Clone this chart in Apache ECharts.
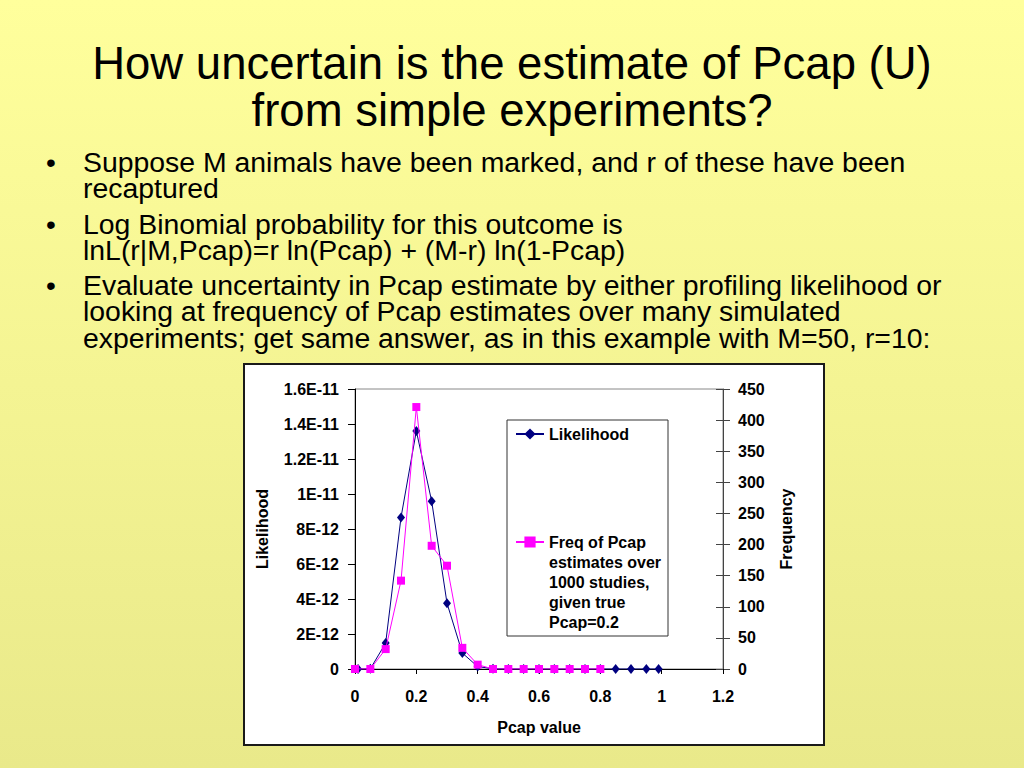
<!DOCTYPE html>
<html>
<head>
<meta charset="utf-8">
<script src="https://cdn.jsdelivr.net/npm/echarts@6/dist/echarts.min.js"></script>
<style>
html,body{margin:0;padding:0;width:1024px;height:768px;overflow:hidden;}
#main{width:1024px;height:768px;}
</style>
</head>
<body>
<div id="main"></div>
<script>
// ---- data ----
const titleLines = ['How uncertain is the estimate of Pcap (U)', 'from simple experiments?'];
const bulletLines = [
  ['Suppose M animals have been marked, and r of these have been', 'recaptured'],
  ['Log Binomial probability for this outcome is', 'lnL(r|M,Pcap)=r ln(Pcap) + (M-r) ln(1-Pcap)'],
  ['Evaluate uncertainty in Pcap estimate by either profiling likelihood or', 'looking at frequency of Pcap estimates over many simulated', 'experiments; get same answer, as in this example with M=50, r=10:']
];
const likName = 'Likelihood';
const freqName = 'Freq of Pcap\nestimates over\n1000 studies,\ngiven true\nPcap=0.2';
const likX = [0.01, 0.05, 0.1, 0.15, 0.2, 0.25, 0.3, 0.35, 0.4, 0.45, 0.5, 0.55, 0.6, 0.65, 0.7, 0.75, 0.8, 0.85, 0.9, 0.95, 0.99];
const likY = [0, 1.3e-14, 1.48e-12, 8.66e-12, 1.36e-11, 9.59e-12, 3.76e-12, 9.1e-13, 1.4e-13, 1.4e-14, 1e-15, 0, 0, 0, 0, 0, 0, 0, 0, 0, 0];
const freqX = [0, 0.05, 0.1, 0.15, 0.2, 0.25, 0.3, 0.35, 0.4, 0.45, 0.5, 0.55, 0.6, 0.65, 0.7, 0.75, 0.8];
const freqY = [0, 0, 32, 142, 421, 198, 166, 34, 7, 0, 0, 0, 0, 0, 0, 0, 0];
const xTickLabels = ['0', '0.2', '0.4', '0.6', '0.8', '1', '1.2'];
const leftTickLabels = ['0', '2E-12', '4E-12', '6E-12', '8E-12', '1E-11', '1.2E-11', '1.4E-11', '1.6E-11'];
const rightTickLabels = ['0', '50', '100', '150', '200', '250', '300', '350', '400', '450'];
const xAxisName = 'Pcap value';
const leftAxisName = 'Likelihood';
const rightAxisName = 'Frequency';

// ---- chart ----
const chart = echarts.init(document.getElementById('main'), null, {renderer: 'svg'});
const FONT = '"Liberation Sans", Arial, Helvetica, sans-serif';
const FS = 16;
const axisLabelStyle = {fontFamily: FONT, fontWeight: 'bold', fontSize: FS, color: '#000'};
const nameStyle = {fontFamily: FONT, fontWeight: 'bold', fontSize: FS, color: '#000'};

const graphics = [];
graphics.push({
  type: 'rect', z: -100, silent: true,
  shape: {x: 0, y: 0, width: 1024, height: 768},
  style: {fill: new echarts.graphic.LinearGradient(0, 0, 0, 1, [
    {offset: 0, color: '#FFFF9C'}, {offset: 1, color: '#E9E98A'}])}
});
graphics.push({
  type: 'rect', z: -90, silent: true,
  shape: {x: 244, y: 364, width: 580, height: 381},
  style: {fill: '#FFFFFF', stroke: '#1a1a1a', lineWidth: 2}
});
const titleCenters = [63, 110];
titleLines.forEach((t, i) => {
  graphics.push({
    type: 'text', z: 10, silent: true,
    style: {text: t, x: 512, y: titleCenters[i], align: 'center', verticalAlign: 'middle',
      font: 'normal 45.5px "Liberation Sans", Arial, sans-serif', fill: '#000'}
  });
});
const bulletY = [[162, 188], [224, 250], [285, 311, 338]];
bulletLines.forEach((lines, bi) => {
  graphics.push({
    type: 'text', z: 10, silent: true,
    style: {text: '\u2022', x: 46, y: bulletY[bi][0], align: 'left', verticalAlign: 'middle',
      font: 'normal 28px "Liberation Sans", Arial, sans-serif', fill: '#000'}
  });
  lines.forEach((ln, li) => {
    graphics.push({
      type: 'text', z: 10, silent: true,
      style: {text: ln, x: 83, y: bulletY[bi][li], align: 'left', verticalAlign: 'middle',
        font: 'normal 28.4px "Liberation Sans", Arial, sans-serif', fill: '#000'}
    });
  });
});
// legend frame
graphics.push({
  type: 'rect', z: 3, silent: true,
  shape: {x: 507, y: 420, width: 161, height: 216},
  style: {fill: '#FFFFFF', stroke: '#333', lineWidth: 1}
});

const option = {
  animation: false,
  graphic: graphics,
  grid: {left: 355, top: 389, width: 368, height: 280, show: true, borderColor: '#888', borderWidth: 1, backgroundColor: 'transparent'},
  legend: [
    {
      data: [likName], left: 515, top: 426, padding: 0, orient: 'vertical',
      itemWidth: 28, itemHeight: 14, itemGap: 0, z: 5, selectedMode: false,
      textStyle: {fontFamily: FONT, fontWeight: 'bold', fontSize: FS, color: '#000'}
    },
    {
      data: [freqName], left: 515, top: 534, padding: 0, orient: 'vertical',
      itemWidth: 28, itemHeight: 14, itemGap: 0, z: 5, selectedMode: false,
      formatter: name => '{t|' + name + '}',
      textStyle: {fontFamily: FONT, fontWeight: 'bold', fontSize: FS, color: '#000', padding: [80, 0, 0, 0],
        rich: {t: {fontFamily: FONT, fontWeight: 'bold', fontSize: FS, color: '#000', lineHeight: 20}}}
    }
  ],
  xAxis: {
    type: 'value', min: 0, max: 1.2, interval: 0.2,
    name: xAxisName, nameLocation: 'middle', nameGap: 50, nameTextStyle: nameStyle,
    axisLine: {onZero: false, lineStyle: {color: '#000', width: 1}},
    axisTick: {show: true, length: 5, lineStyle: {color: '#000'}},
    axisLabel: Object.assign({margin: 19, formatter: (v, i) => xTickLabels[i]}, axisLabelStyle),
    splitLine: {show: false}
  },
  yAxis: [
    {
      type: 'value', min: 0, max: 1.6e-11, interval: 2e-12, position: 'left',
      name: leftAxisName, nameLocation: 'middle', nameGap: 85, nameRotate: 90, nameTextStyle: nameStyle,
      axisLine: {show: true, lineStyle: {color: '#000', width: 1}},
      axisTick: {show: true, length: 7, lineStyle: {color: '#000'}},
      axisLabel: Object.assign({margin: 16, formatter: (v, i) => leftTickLabels[i]}, axisLabelStyle),
      splitLine: {show: false}
    },
    {
      type: 'value', min: 0, max: 450, interval: 50, position: 'right',
      name: rightAxisName, nameLocation: 'middle', nameGap: 55, nameRotate: 90, nameTextStyle: nameStyle,
      axisLine: {show: true, lineStyle: {color: '#444', width: 1}},
      axisTick: {show: true, length: 7, lineStyle: {color: '#444'}},
      axisLabel: Object.assign({margin: 15, formatter: (v, i) => rightTickLabels[i]}, axisLabelStyle),
      splitLine: {show: false}
    },
    {
      type: 'value', min: 0, max: 450, interval: 50, position: 'right',
      axisLine: {show: false},
      axisTick: {show: true, inside: true, length: 7, lineStyle: {color: '#444'}},
      axisLabel: {show: false},
      splitLine: {show: false}
    }
  ],
  series: [
    {
      name: likName, type: 'line', yAxisIndex: 0, z: 2,
      data: likX.map((x, i) => [x, likY[i]]),
      symbol: 'diamond', symbolSize: [8, 10], showAllSymbol: true,
      lineStyle: {color: '#000080', width: 1}, itemStyle: {color: '#000080'}
    },
    {
      name: freqName, type: 'line', yAxisIndex: 1, z: 3,
      data: freqX.map((x, i) => [x, freqY[i]]),
      symbol: 'rect', symbolSize: 8, showAllSymbol: true,
      lineStyle: {color: '#FF00FF', width: 1}, itemStyle: {color: '#FF00FF'}
    }
  ]
};
chart.setOption(option);
</script>
</body>
</html>
